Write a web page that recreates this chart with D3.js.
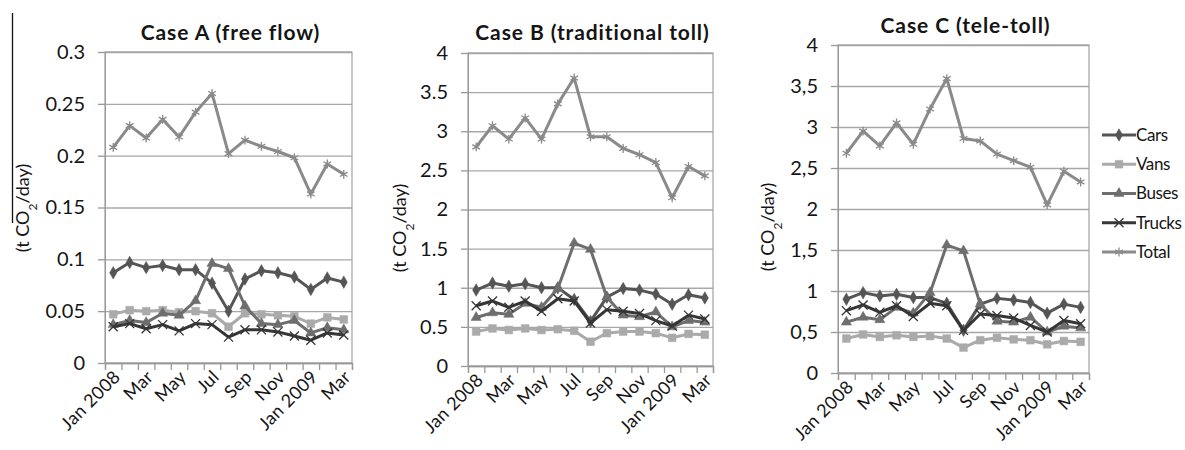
<!DOCTYPE html>
<html>
  <head>
    <title>CO2 emissions per case</title>
    <script src="https://d3js.org/d3.v7.min.js"></script>
    <style>
      body { margin: 0; background: #fff; }
      text { font-family: Lato, "Open Sans", sans-serif; fill: #151515; }
    </style>
  </head>
  <body>
    <div id="chart"></div>
    <script>
      const months = ["Jan 2008", "Feb", "Mar", "Apr", "May", "Jun", "Jul", "Aug",
        "Sep", "Oct", "Nov", "Dec", "Jan 2009", "Feb", "Mar"];
      const seriesNames = ["Cars", "Vans", "Buses", "Trucks", "Total"];

      // Case A (free flow)
      const carsA = [0.087, 0.097, 0.092, 0.094, 0.090, 0.090, 0.077, 0.050, 0.081, 0.089, 0.087, 0.083, 0.071, 0.082, 0.078];
      const vansA = [0.047, 0.051, 0.050, 0.051, 0.049, 0.050, 0.048, 0.035, 0.048, 0.047, 0.046, 0.045, 0.038, 0.044, 0.042];
      const busesA = [0.037, 0.041, 0.039, 0.048, 0.046, 0.060, 0.096, 0.091, 0.055, 0.038, 0.037, 0.041, 0.029, 0.034, 0.032];
      const trucksA = [0.035, 0.038, 0.033, 0.037, 0.031, 0.038, 0.037, 0.025, 0.032, 0.032, 0.030, 0.026, 0.022, 0.029, 0.027];
      const totalA = [0.208, 0.229, 0.217, 0.235, 0.218, 0.242, 0.260, 0.202, 0.215, 0.209, 0.204, 0.198, 0.163, 0.192, 0.182];

      // Case B (traditional toll)
      const carsB = [0.97, 1.06, 1.02, 1.05, 1.00, 1.00, 0.85, 0.57, 0.88, 0.99, 0.97, 0.92, 0.79, 0.91, 0.87];
      const vansB = [0.44, 0.48, 0.46, 0.48, 0.46, 0.47, 0.45, 0.31, 0.42, 0.44, 0.44, 0.42, 0.36, 0.41, 0.40];
      const busesB = [0.62, 0.68, 0.66, 0.80, 0.75, 0.99, 1.57, 1.49, 0.88, 0.65, 0.63, 0.69, 0.50, 0.58, 0.56];
      const trucksB = [0.77, 0.83, 0.75, 0.83, 0.70, 0.86, 0.83, 0.55, 0.72, 0.70, 0.67, 0.58, 0.51, 0.65, 0.60];
      const totalB = [2.80, 3.07, 2.90, 3.17, 2.90, 3.35, 3.68, 2.93, 2.93, 2.78, 2.70, 2.60, 2.15, 2.55, 2.43];

      // Case C (tele-toll)
      const carsC = [0.90, 0.98, 0.94, 0.96, 0.92, 0.92, 0.85, 0.52, 0.84, 0.91, 0.89, 0.86, 0.73, 0.84, 0.80];
      const vansC = [0.42, 0.47, 0.44, 0.46, 0.44, 0.45, 0.42, 0.31, 0.40, 0.43, 0.41, 0.40, 0.35, 0.39, 0.38];
      const busesC = [0.62, 0.68, 0.65, 0.80, 0.73, 0.98, 1.56, 1.49, 0.84, 0.63, 0.62, 0.68, 0.50, 0.57, 0.55];
      const trucksC = [0.76, 0.83, 0.74, 0.82, 0.69, 0.85, 0.82, 0.52, 0.72, 0.70, 0.67, 0.58, 0.50, 0.64, 0.60];
      const totalC = [2.68, 2.95, 2.77, 3.05, 2.79, 3.22, 3.59, 2.86, 2.83, 2.67, 2.59, 2.51, 2.05, 2.46, 2.33];

      const ticksA = [0, 0.05, 0.1, 0.15, 0.2, 0.25, 0.3];
      const ticksBC = [0, 0.5, 1, 1.5, 2, 2.5, 3, 3.5, 4];

      const colors = { Cars: "#555555", Vans: "#aaaaaa", Buses: "#6e6e6e", Trucks: "#363636", Total: "#8a8a8a" };
      const symbols = {
        Cars: d3.symbolDiamond, Vans: d3.symbolSquare, Buses: d3.symbolTriangle,
        Trucks: d3.symbolX, Total: d3.symbolAsterisk
      };
      const filled = { Cars: true, Vans: true, Buses: true, Trucks: false, Total: false };
      const symSize = { Cars: 45, Vans: 60, Buses: 45, Trucks: 55, Total: 55 };

      const panels = [
        {
          title: "Case A (free flow)", series: [carsA, vansA, busesA, trucksA, totalA],
          ticks: ticksA, max: 0.3, fmt: (d) => String(d),
          left: 105, right: 352, top: 52, bottom: 363, titleY: 40, labelX: 23, labelY: 208
        },
        {
          title: "Case B (traditional toll)", series: [carsB, vansB, busesB, trucksB, totalB],
          ticks: ticksBC, max: 4, fmt: (d) => String(d),
          left: 468, right: 713, top: 53, bottom: 366, titleY: 40, labelX: 400, labelY: 228
        },
        {
          title: "Case C (tele-toll)", series: [carsC, vansC, busesC, trucksC, totalC],
          ticks: ticksBC, max: 4, fmt: (d) => String(d).replace(".", ","),
          left: 838, right: 1089, top: 45, bottom: 373, titleY: 33, labelX: 768, labelY: 227
        }
      ];

      const svg = d3.select("#chart").append("svg")
        .attr("width", 1185).attr("height", 450);

      // stray line at the top left of the original scan
      svg.append("line")
        .attr("x1", 12.5).attr("x2", 12.5).attr("y1", 13).attr("y2", 223)
        .attr("stroke", "#111").attr("stroke-width", 1.3);

      panels.forEach((p) => {
        const x = d3.scaleBand().domain(d3.range(months.length)).range([p.left, p.right]);
        const xEdge = d3.scaleLinear().domain([0, months.length]).range([p.left, p.right]);
        const y = d3.scaleLinear().domain([0, p.max]).range([p.bottom, p.top]);
        const g = svg.append("g");

        // gridlines
        g.append("g")
          .attr("transform", `translate(${p.left},0)`)
          .call(d3.axisLeft(y).tickValues(p.ticks).tickSize(-(p.right - p.left)).tickFormat(""))
          .call((a) => a.select(".domain").remove())
          .call((a) => a.selectAll("line").attr("stroke", "#a8a8a8").attr("stroke-width", 1.3));

        // plot frame
        g.append("rect")
          .attr("x", p.left).attr("y", p.top)
          .attr("width", p.right - p.left).attr("height", p.bottom - p.top)
          .attr("fill", "none").attr("stroke", "#a0a0a0").attr("stroke-width", 1.2);

        // y axis
        g.append("g")
          .attr("transform", `translate(${p.left},0)`)
          .call(d3.axisLeft(y).tickValues(p.ticks).tickSize(7).tickPadding(13).tickFormat(p.fmt))
          .call((a) => a.select(".domain").attr("stroke", "#999"))
          .call((a) => a.selectAll("line").attr("stroke", "#999").attr("stroke-width", 1.3))
          .call((a) => a.selectAll("text").style("font-size", "20px").attr("fill", "#151515"));

        // x axis tick marks at month boundaries
        g.append("g")
          .attr("transform", `translate(0,${p.bottom})`)
          .call(d3.axisBottom(xEdge).tickValues(d3.range(months.length + 1)).tickSize(7).tickFormat(""))
          .call((a) => a.select(".domain").attr("stroke", "#999").attr("stroke-width", 1.3))
          .call((a) => a.selectAll("line").attr("stroke", "#999").attr("stroke-width", 1.3));

        // x labels (every other month)
        g.append("g")
          .attr("transform", `translate(0,${p.bottom})`)
          .call(d3.axisBottom(x).tickSize(0).tickFormat((i) => (i % 2 === 0 ? months[i] : "")))
          .call((a) => a.select(".domain").remove())
          .call((a) => a.selectAll("text")
            .style("font-size", "18px").style("letter-spacing", "0.3px").attr("fill", "#151515")
            .attr("text-anchor", "end")
            .attr("dy", "0")
            .attr("transform", "translate(6,13) rotate(-45)"));

        // series
        const line = d3.line().x((d, i) => x(i) + x.bandwidth() / 2).y((d) => y(d));
        p.series.forEach((vals, si) => {
          const name = seriesNames[si];
          g.append("path")
            .datum(vals)
            .attr("fill", "none")
            .attr("stroke", colors[name])
            .attr("stroke-width", 3)
            .attr("stroke-linejoin", "round")
            .attr("d", line);
          g.append("g").selectAll("path")
            .data(vals)
            .join("path")
            .attr("transform", (d, i) => `translate(${x(i) + x.bandwidth() / 2},${y(d)})`)
            .attr("d", d3.symbol(symbols[name], symSize[name]))
            .attr("fill", filled[name] ? colors[name] : "none")
            .attr("stroke", colors[name])
            .attr("stroke-width", filled[name] ? 0.5 : 1.3);
        });

        // title
        svg.append("text")
          .attr("x", (p.left + p.right) / 2 + 2)
          .attr("y", p.titleY)
          .attr("text-anchor", "middle")
          .style("font-size", "21px")
          .style("letter-spacing", "0.9px")
          .style("font-weight", "bold")
          .text(p.title);

        // y axis label
        const lab = svg.append("text")
          .attr("transform", `translate(${p.labelX},${p.labelY}) rotate(-90)`)
          .attr("text-anchor", "middle")
          .attr("dy", "0.35em")
          .style("font-size", "18px");
        lab.append("tspan").text("(t CO");
        lab.append("tspan").attr("baseline-shift", "sub").style("font-size", "12px").text("2");
        lab.append("tspan").text("/day)");
      });

      // legend
      const legendY = d3.scalePoint().domain(seriesNames).range([135, 252]);
      const leg = svg.append("g");
      seriesNames.forEach((name) => {
        const yy = legendY(name);
        leg.append("line")
          .attr("x1", 1102).attr("x2", 1136).attr("y1", yy).attr("y2", yy)
          .attr("stroke", colors[name]).attr("stroke-width", 3);
        leg.append("path")
          .attr("transform", `translate(1119,${yy})`)
          .attr("d", d3.symbol(symbols[name], symSize[name]))
          .attr("fill", filled[name] ? colors[name] : "none")
          .attr("stroke", colors[name])
          .attr("stroke-width", filled[name] ? 0.5 : 1.3);
        leg.append("text")
          .attr("x", 1136).attr("y", yy).attr("dy", "0.35em")
          .style("font-size", "17px")
          .style("letter-spacing", "-0.4px")
          .text(name);
      });
    </script>
  </body>
</html>
